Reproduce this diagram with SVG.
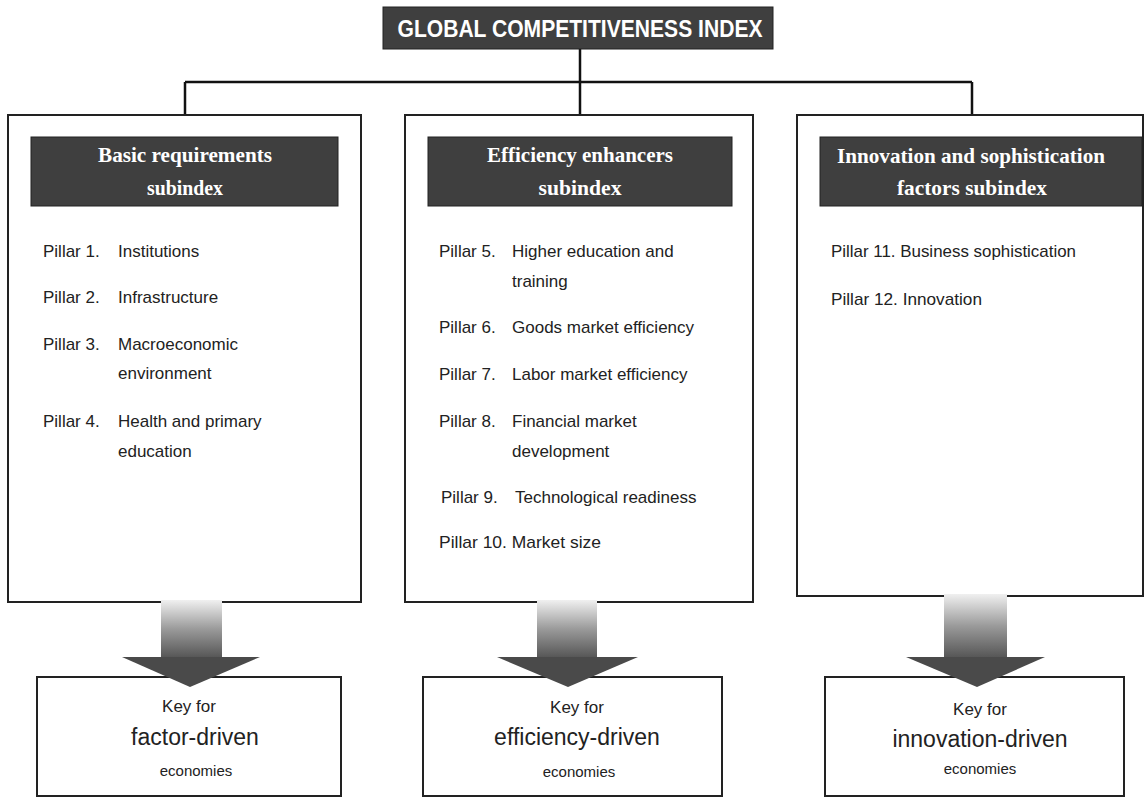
<svg xmlns="http://www.w3.org/2000/svg" width="1144" height="800" viewBox="0 0 1144 800">
<defs>
<linearGradient id="shaft" x1="0" y1="0" x2="0" y2="1">
<stop offset="0" stop-color="#f0f0f0"/>
<stop offset="0.5" stop-color="#9a9a9a"/>
<stop offset="1" stop-color="#555"/>
</linearGradient>
<style>
.box{fill:#fff;stroke:#222;stroke-width:2}
.hdr{fill:#3f3f3f;stroke:#222;stroke-width:1}
.conn{fill:none;stroke:#111;stroke-width:2.5}
.ht{font-family:"Liberation Serif",serif;font-weight:bold;font-size:22px;fill:#fff;text-anchor:middle}
.tt{font-family:"Liberation Sans",sans-serif;font-weight:900;font-size:23px;fill:#fff;text-anchor:middle}
.p{font-family:"Liberation Sans",sans-serif;font-size:17px;fill:#222}
.k{font-family:"Liberation Sans",sans-serif;font-size:17px;fill:#222;text-anchor:middle}
.kb{font-family:"Liberation Sans",sans-serif;font-size:23px;fill:#222;text-anchor:middle}
.ke{font-family:"Liberation Sans",sans-serif;font-size:15px;fill:#222;text-anchor:middle}
.shaft{fill:url(#shaft)}
.head{fill:#4a4a4a}
</style>
</defs>

<g id="connectors">
<path class="conn" d="M580 49 V115 M185 82 H972 M185 82 V115 M972 82 V115"/>
</g>

<g id="title">
<rect class="hdr" x="383" y="7" width="390" height="42"/>
<text class="tt" x="580" y="37" textLength="365" lengthAdjust="spacingAndGlyphs">GLOBAL COMPETITIVENESS INDEX</text>
</g>

<g id="basic">
<rect class="box" x="8" y="115" width="353" height="487"/>
<rect class="hdr" x="31" y="137" width="307" height="69"/>
<text class="ht" x="185" y="162" textLength="174" lengthAdjust="spacingAndGlyphs">Basic requirements</text>
<text class="ht" x="185" y="195" textLength="76" lengthAdjust="spacingAndGlyphs">subindex</text>
<text class="p" x="43" y="257">Pillar 1.</text><text class="p" x="118" y="257">Institutions</text>
<text class="p" x="43" y="303">Pillar 2.</text><text class="p" x="118" y="303">Infrastructure</text>
<text class="p" x="43" y="350">Pillar 3.</text><text class="p" x="118" y="350">Macroeconomic</text>
<text class="p" x="118" y="379">environment</text>
<text class="p" x="43" y="427">Pillar 4.</text><text class="p" x="118" y="427">Health and primary</text>
<text class="p" x="118" y="457">education</text>
</g>

<g id="efficiency">
<rect class="box" x="405" y="115" width="348" height="487"/>
<rect class="hdr" x="428" y="137" width="304" height="69"/>
<text class="ht" x="580" y="162" textLength="186" lengthAdjust="spacingAndGlyphs">Efficiency enhancers</text>
<text class="ht" x="580" y="195" textLength="83" lengthAdjust="spacingAndGlyphs">subindex</text>
<text class="p" x="439" y="257">Pillar 5.</text><text class="p" x="512" y="257">Higher education and</text>
<text class="p" x="512" y="287">training</text>
<text class="p" x="439" y="333">Pillar 6.</text><text class="p" x="512" y="333">Goods market efficiency</text>
<text class="p" x="439" y="380">Pillar 7.</text><text class="p" x="512" y="380">Labor market efficiency</text>
<text class="p" x="439" y="427">Pillar 8.</text><text class="p" x="512" y="427">Financial market</text>
<text class="p" x="512" y="457">development</text>
<text class="p" x="441" y="503">Pillar 9.</text><text class="p" x="515" y="503">Technological readiness</text>
<text class="p" x="439" y="548" textLength="162" lengthAdjust="spacingAndGlyphs">Pillar 10. Market size</text>
</g>

<g id="innovation">
<rect class="box" x="797" y="115" width="346" height="481"/>
<rect class="hdr" x="820" y="137" width="322" height="69"/>
<text class="ht" x="971" y="163" textLength="268" lengthAdjust="spacingAndGlyphs">Innovation and sophistication</text>
<text class="ht" x="972" y="195" textLength="150" lengthAdjust="spacingAndGlyphs">factors subindex</text>
<text class="p" x="831" y="257" textLength="245" lengthAdjust="spacingAndGlyphs">Pillar 11. Business sophistication</text>
<text class="p" x="831" y="305" textLength="151" lengthAdjust="spacingAndGlyphs">Pillar 12. Innovation</text>
</g>

<g id="factor">
<rect class="box" x="37" y="677" width="304" height="119"/>
<text class="k" x="189" y="712">Key for</text>
<text class="kb" x="195" y="745">factor-driven</text>
<text class="ke" x="196" y="776">economies</text>
</g>

<g id="efficiency-driven">
<rect class="box" x="423" y="677" width="299" height="119"/>
<text class="k" x="577" y="713">Key for</text>
<text class="kb" x="577" y="745">efficiency-driven</text>
<text class="ke" x="579" y="777">economies</text>
</g>

<g id="innovation-driven">
<rect class="box" x="825" y="677" width="299" height="119"/>
<text class="k" x="980" y="715">Key for</text>
<text class="kb" x="980" y="747">innovation-driven</text>
<text class="ke" x="980" y="774">economies</text>
</g>

<g id="arrows">
<rect class="shaft" x="161" y="600" width="61" height="58"/>
<polygon class="head" points="122,657 260,657 190,687"/>
<rect class="shaft" x="537" y="600" width="60" height="58"/>
<polygon class="head" points="497,657 638,657 568,687"/>
<rect class="shaft" x="944" y="594" width="63" height="64"/>
<polygon class="head" points="906,657 1045,657 977,687"/>
</g>
</svg>
